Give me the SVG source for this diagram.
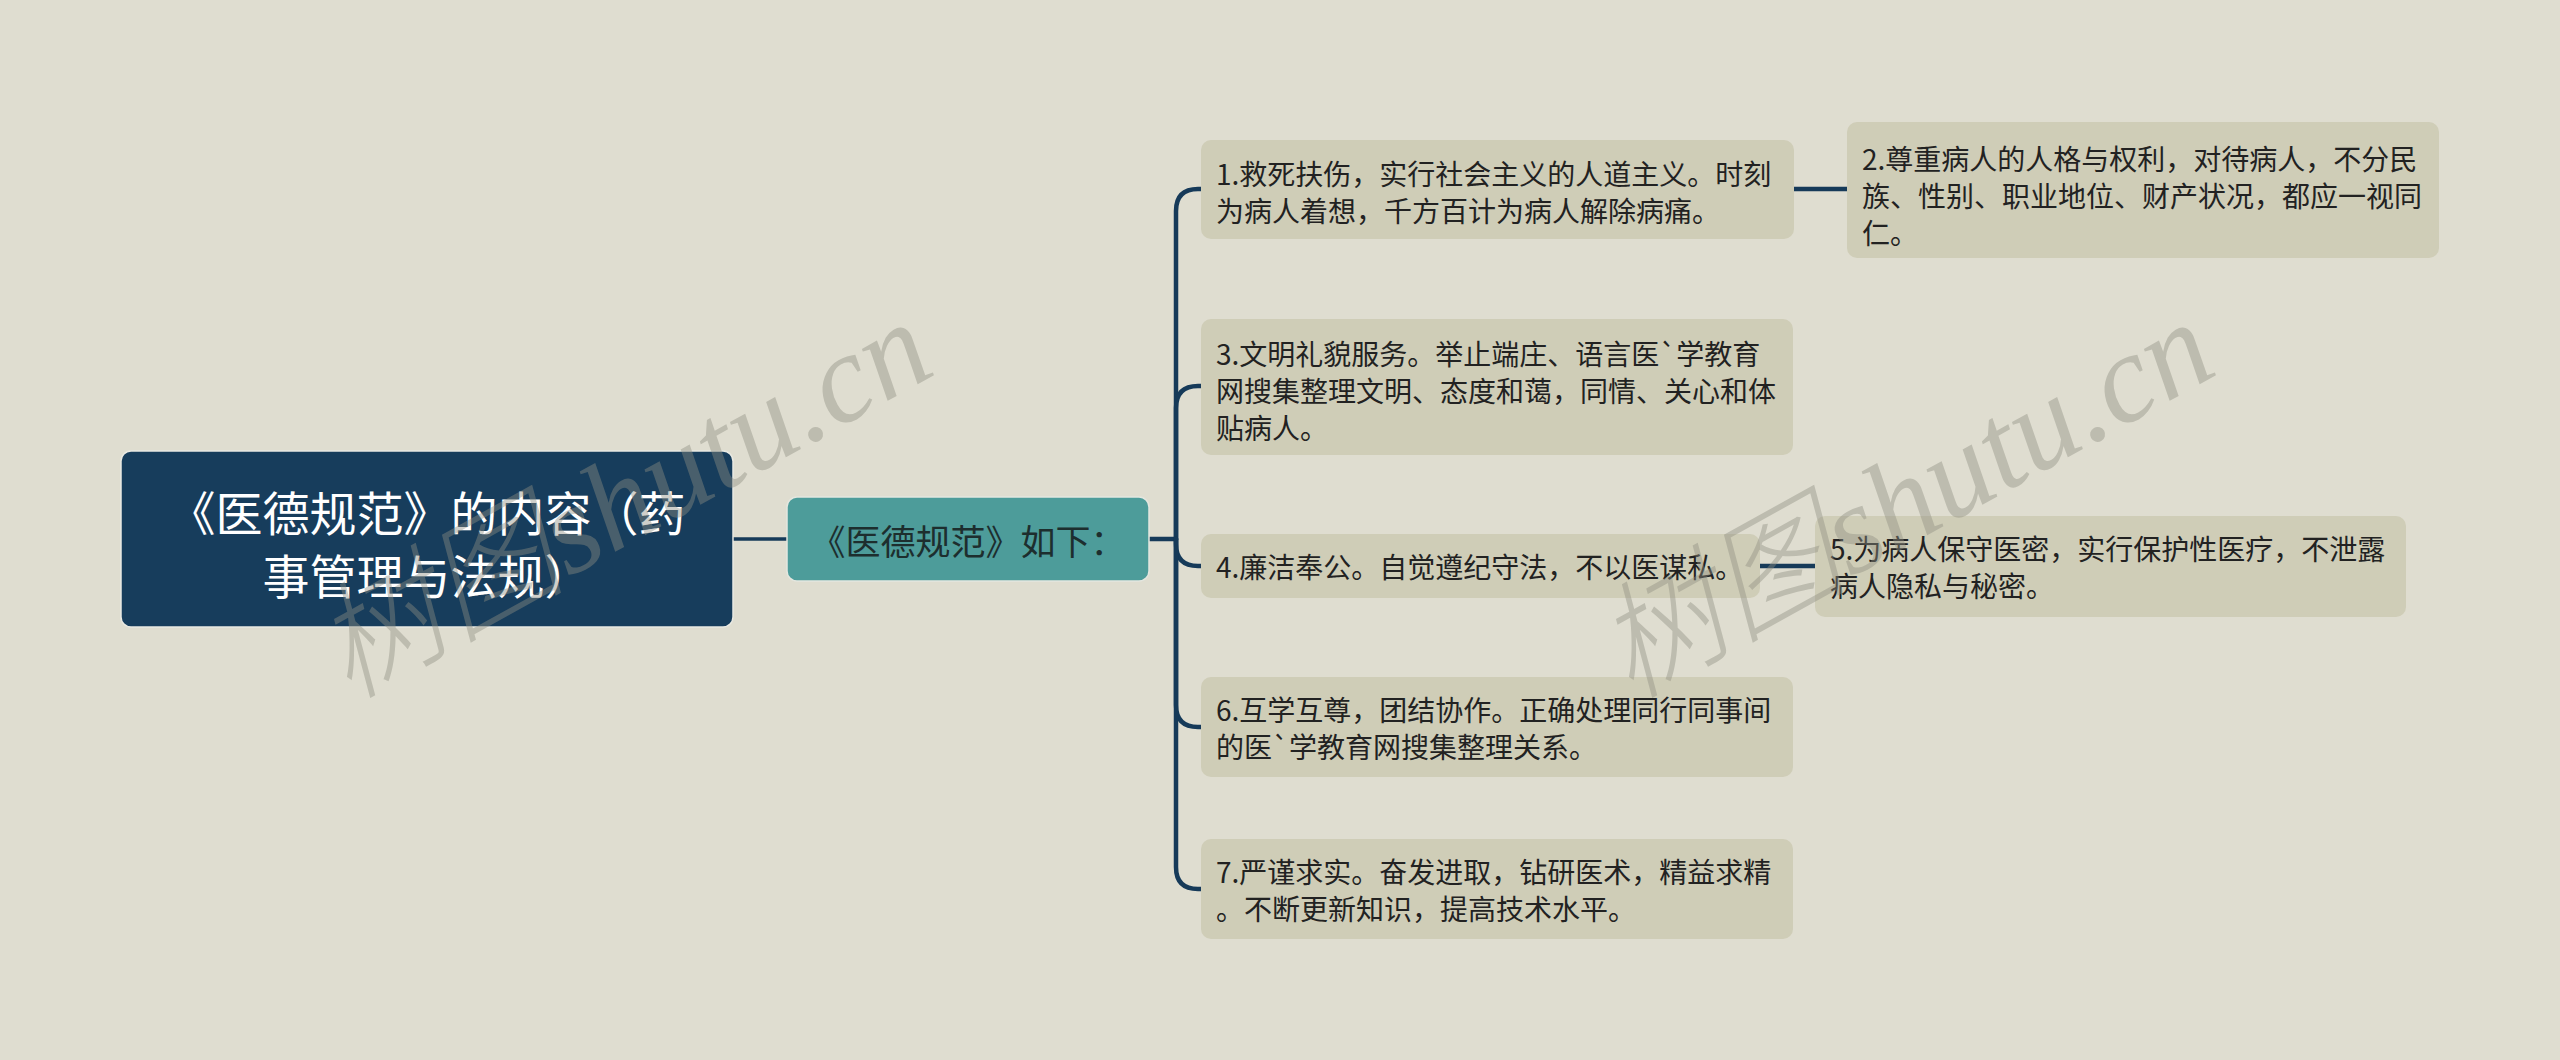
<svg xmlns="http://www.w3.org/2000/svg" width="2560" height="1060" viewBox="0 0 2560 1060">
  <style>
    .bg { fill: #dfddd0; }
    .root-box { fill: #173d5c; stroke: #e9e9e2; stroke-width: 1.5; }
    .root-text { fill: #ffffff; font-family: "Noto Sans CJK SC", "Noto Sans", sans-serif; font-size: 47px; text-anchor: middle; dominant-baseline: central; }
    .sub-box { fill: #4d9c9a; stroke: #e3e6df; stroke-width: 1.5; }
    .sub-text { fill: #1d2e2e; font-family: "Noto Sans CJK SC", "Noto Sans", sans-serif; font-size: 35px; text-anchor: middle; dominant-baseline: central; }
    .leaf-box { fill: #cfcdb7; }
    .leaf-text { fill: #222222; font-family: "Noto Sans CJK SC", "Noto Sans", sans-serif; font-size: 28px; dominant-baseline: central; }
    .conn { fill: none; stroke: #163a59; stroke-width: 4.5; stroke-linecap: round; stroke-linejoin: round; }
    .conn-thin { fill: none; stroke: #163a59; stroke-width: 3.5; }
    .wm { fill: #8f8f82; opacity: 0.42; font-size: 126px; }
    .wm-cjk { font-family: "Noto Sans CJK SC", sans-serif; font-style: italic; font-weight: 300; }
    .wm-lat { font-family: "Liberation Serif", serif; font-style: italic; }
  </style>
  <rect class="bg" x="0" y="0" width="2560" height="1060"/>

  <g id="connectors">
    <line class="conn-thin" x1="733" y1="539" x2="787" y2="539"/>
    <line class="conn" x1="1149" y1="539" x2="1176" y2="539"/>
    <path class="conn" d="M1176 539 V211 Q1176 189 1198 189 H1202"/>
    <path class="conn" d="M1176 539 V408 Q1176 386 1198 386 H1202"/>
    <path class="conn" d="M1176 539 V544 Q1176 566 1198 566 H1202"/>
    <path class="conn" d="M1176 539 V705 Q1176 727 1198 727 H1202"/>
    <path class="conn" d="M1176 539 V867 Q1176 889 1198 889 H1202"/>
    <line class="conn" x1="1794" y1="189" x2="1847" y2="189"/>
    <line class="conn" x1="1760" y1="566" x2="1815" y2="566"/>
  </g>

  <g id="root">
    <rect class="root-box" x="121" y="451" width="612" height="176" rx="10"/>
    <text class="root-text" x="427" y="510">《医德规范》的内容（药</text>
    <text class="root-text" x="427" y="573">事管理与法规）</text>
  </g>

  <g id="sub">
    <rect class="sub-box" x="787" y="497" width="362" height="84" rx="10"/>
    <text class="sub-text" x="968" y="539">《医德规范》如下：</text>
  </g>

  <g id="leaf1">
    <rect class="leaf-box" x="1201" y="140" width="593" height="99" rx="10"/>
    <text class="leaf-text" x="1216" y="173">1.救死扶伤，实行社会主义的人道主义。时刻</text>
    <text class="leaf-text" x="1216" y="210">为病人着想，千方百计为病人解除病痛。</text>
  </g>

  <g id="leaf2">
    <rect class="leaf-box" x="1847" y="122" width="592" height="136" rx="10"/>
    <text class="leaf-text" x="1862" y="158">2.尊重病人的人格与权利，对待病人，不分民</text>
    <text class="leaf-text" x="1862" y="195">族、性别、职业地位、财产状况，都应一视同</text>
    <text class="leaf-text" x="1862" y="232">仁。</text>
  </g>

  <g id="leaf3">
    <rect class="leaf-box" x="1201" y="319" width="592" height="136" rx="10"/>
    <text class="leaf-text" x="1216" y="353">3.文明礼貌服务。举止端庄、语言医`学教育</text>
    <text class="leaf-text" x="1216" y="390">网搜集整理文明、态度和蔼，同情、关心和体</text>
    <text class="leaf-text" x="1216" y="427">贴病人。</text>
  </g>

  <g id="leaf4">
    <rect class="leaf-box" x="1201" y="534" width="559" height="64" rx="10"/>
    <text class="leaf-text" x="1216" y="566">4.廉洁奉公。自觉遵纪守法，不以医谋私。</text>
  </g>

  <g id="leaf5">
    <rect class="leaf-box" x="1815" y="516" width="591" height="101" rx="10"/>
    <text class="leaf-text" x="1830" y="548">5.为病人保守医密，实行保护性医疗，不泄露</text>
    <text class="leaf-text" x="1830" y="585">病人隐私与秘密。</text>
  </g>

  <g id="leaf6">
    <rect class="leaf-box" x="1201" y="677" width="592" height="100" rx="10"/>
    <text class="leaf-text" x="1216" y="709">6.互学互尊，团结协作。正确处理同行同事间</text>
    <text class="leaf-text" x="1216" y="746">的医`学教育网搜集整理关系。</text>
  </g>

  <g id="leaf7">
    <rect class="leaf-box" x="1201" y="839" width="592" height="100" rx="10"/>
    <text class="leaf-text" x="1216" y="871">7.严谨求实。奋发进取，钻研医术，精益求精</text>
    <text class="leaf-text" x="1216" y="908">。不断更新知识，提高技术水平。</text>
  </g>

  <g id="watermarks">
    <text class="wm" x="348" y="700" transform="rotate(-29 348 700)"><tspan class="wm-cjk">树图</tspan><tspan class="wm-lat">shutu.cn</tspan></text>
    <text class="wm" x="1630" y="700" transform="rotate(-29 1630 700)"><tspan class="wm-cjk">树图</tspan><tspan class="wm-lat">shutu.cn</tspan></text>
  </g>
</svg>
